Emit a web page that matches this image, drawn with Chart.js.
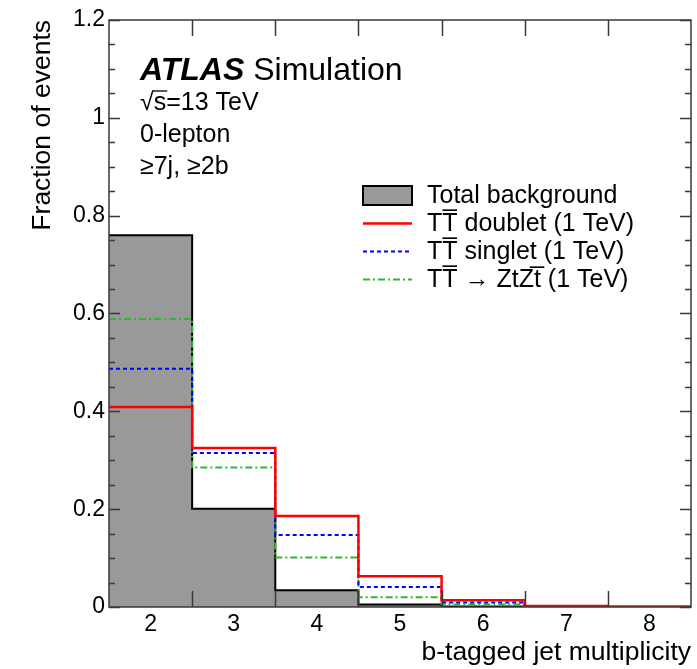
<!DOCTYPE html>
<html>
<head>
<meta charset="utf-8">
<script src="https://cdn.jsdelivr.net/npm/chart.js@4.4.1/dist/chart.umd.min.js"></script>
<style>
  html, body { margin: 0; padding: 0; background: #fff; }
  #wrap { width: 697px; height: 669px; }
</style>
</head>
<body>
<div id="wrap"><canvas id="c" width="697" height="669"></canvas></div>
<script>
// b-tagged jet multiplicity bins (bin centres)
const bTagBins = [2, 3, 4, 5, 6, 7, 8];

// Normalised distributions (fraction of events per bin)
const totalBackground = [0.760, 0.201, 0.034, 0.005, 0.001, 0.000, 0.000];
const ttDoublet       = [0.409, 0.325, 0.186, 0.063, 0.014, 0.002, 0.001];
const ttSinglet       = [0.487, 0.315, 0.147, 0.041, 0.009, 0.001, 0.000];
const ttZtZt          = [0.589, 0.285, 0.101, 0.020, 0.005, 0.000, 0.000];

const seriesLabels = [
  'Total background',
  'TT\u0305 doublet (1 TeV)',
  'TT\u0305 singlet (1 TeV)',
  'TT\u0305 \u2192 ZtZt\u0305 (1 TeV)'
];

const yMajorTicks = [0, 0.2, 0.4, 0.6, 0.8, 1, 1.2];

const FONT = "'Liberation Sans', Arial, Helvetica, sans-serif";

// Turn per-bin values into step-histogram vertices at the bin edges
function histPoints(values) {
  const pts = bTagBins.map((b, i) => ({ x: b - 0.5, y: values[i] }));
  pts.push({ x: bTagBins[bTagBins.length - 1] + 0.5, y: values[values.length - 1] });
  return pts;
}

// Frame with inward ticks on all four sides
const frameTicks = {
  id: 'frameTicks',
  afterDatasetsDraw(chart) {
    const { ctx, chartArea: a, scales: { x, y } } = chart;
    ctx.save();
    ctx.strokeStyle = '#3a3a3a';
    ctx.lineWidth = 1.5;
    ctx.beginPath();
    // y ticks: major every 0.2, minor every 0.05
    for (let k = 0; k <= 24; k++) {
      const v = k * 0.05;
      const py = Math.round(y.getPixelForValue(v)) + 0.5;
      const len = (k % 4 === 0) ? 11 : 6;
      ctx.moveTo(a.left, py); ctx.lineTo(a.left + len, py);
      ctx.moveTo(a.right, py); ctx.lineTo(a.right - len, py);
    }
    // x ticks at the bin edges
    for (let i = 0; i < bTagBins.length - 1; i++) {
      const px = Math.round(x.getPixelForValue(bTagBins[i] + 0.5)) + 0.5;
      ctx.moveTo(px, a.bottom); ctx.lineTo(px, a.bottom - 16);
      ctx.moveTo(px, a.top); ctx.lineTo(px, a.top + 16);
    }
    ctx.stroke();
    ctx.lineWidth = 1.5;
    ctx.strokeRect(a.left, a.top, a.right - a.left, a.bottom - a.top);
    ctx.restore();
  }
};

// Experiment label, selection text and legend
const annotations = {
  id: 'annotations',
  afterDraw(chart) {
    const { ctx, chartArea: a } = chart;
    ctx.save();
    ctx.fillStyle = '#000';
    ctx.textBaseline = 'alphabetic';
    ctx.textAlign = 'left';

    const x0 = a.left + 31;
    ctx.font = `italic bold 32px ${FONT}`;
    ctx.fillText('ATLAS', x0, a.top + 60);
    const wA = ctx.measureText('ATLAS ').width;
    ctx.font = `32px ${FONT}`;
    ctx.fillText('Simulation', x0 + wA, a.top + 60);

    ctx.font = `25px ${FONT}`;
    const rad = '\u221A';
    ctx.fillText(rad, x0, a.top + 90);
    const wr = ctx.measureText(rad).width;
    ctx.fillText('s=13 TeV', x0 + wr, a.top + 90);
    const ws = ctx.measureText('s').width;
    ctx.beginPath();
    ctx.lineWidth = 1.3;
    ctx.strokeStyle = '#000';
    ctx.moveTo(x0 + wr - 1, a.top + 90 - 19);
    ctx.lineTo(x0 + wr + ws + 1, a.top + 90 - 19);
    ctx.stroke();

    ctx.fillText('0-lepton', x0, a.top + 122);
    ctx.fillText('\u22657j, \u22652b', x0, a.top + 154);

    // legend
    const lx = 363, lw = 49, tx = 427;
    const rows = [195, 223, 251, 279];
    chart.data.datasets.forEach((ds, i) => {
      const cy = rows[i];
      ctx.save();
      if (i === 0) {
        ctx.fillStyle = ds.backgroundColor;
        ctx.fillRect(lx, cy - 9, lw, 19);
        ctx.strokeStyle = ds.borderColor;
        ctx.lineWidth = 2;
        ctx.strokeRect(lx, cy - 9, lw, 19);
      } else {
        ctx.strokeStyle = ds.borderColor;
        ctx.lineWidth = ds.borderWidth;
        ctx.setLineDash(ds.borderDash || []);
        ctx.beginPath();
        ctx.moveTo(lx, cy + 0.5);
        ctx.lineTo(lx + lw, cy + 0.5);
        ctx.stroke();
      }
      ctx.restore();
      ctx.font = `25px ${FONT}`;
      ctx.textBaseline = 'middle';
      ctx.fillStyle = '#000';
      ctx.fillText(ds.label, tx, cy + 1);
    });
    ctx.restore();
  }
};

Chart.defaults.font.family = FONT;
Chart.defaults.color = '#000';

new Chart(document.getElementById('c'), {
  type: 'line',
  data: {
    datasets: [
      {
        label: seriesLabels[0],
        data: histPoints(totalBackground),
        stepped: 'before',
        fill: 'origin',
        backgroundColor: '#999999',
        borderColor: '#000000',
        borderWidth: 2,
        pointRadius: 0,
        order: 3
      },
      {
        label: seriesLabels[1],
        data: histPoints(ttDoublet),
        stepped: 'before',
        fill: false,
        borderColor: '#ff0000',
        borderWidth: 2.5,
        pointRadius: 0,
        order: 0
      },
      {
        label: seriesLabels[2],
        data: histPoints(ttSinglet),
        stepped: 'before',
        fill: false,
        borderColor: '#0000ff',
        borderWidth: 2,
        borderDash: [4, 3],
        pointRadius: 0,
        order: 1
      },
      {
        label: seriesLabels[3],
        data: histPoints(ttZtZt),
        stepped: 'before',
        fill: false,
        borderColor: '#33b533',
        borderWidth: 2,
        borderDash: [7, 3, 2, 3],
        pointRadius: 0,
        order: 2
      }
    ]
  },
  options: {
    responsive: false,
    devicePixelRatio: 1,
    animation: false,
    layout: { padding: { top: 20, right: 6, left: 0, bottom: 0 } },
    plugins: { legend: { display: false }, tooltip: { enabled: false } },
    scales: {
      x: {
        type: 'linear',
        min: bTagBins[0] - 0.5,
        max: bTagBins[bTagBins.length - 1] + 0.5,
        afterBuildTicks: s => { s.ticks = bTagBins.map(v => ({ value: v })); },
        afterFit: s => { s.height = 62; },
        grid: { display: false, drawTicks: false },
        border: { display: false },
        ticks: {
          autoSkip: false, maxRotation: 0, padding: 4,
          font: { size: 23 }, color: '#000',
          callback: v => String(v)
        },
        title: {
          display: true, text: 'b-tagged jet multiplicity', align: 'end',
          font: { size: 26.5 }, color: '#000', padding: { top: 0, bottom: 0 }
        }
      },
      y: {
        min: 0,
        max: 1.2,
        afterBuildTicks: s => { s.ticks = yMajorTicks.map(v => ({ value: v })); },
        afterFit: s => { s.width = 109; },
        grid: { display: false, drawTicks: false },
        border: { display: false },
        ticks: {
          padding: 4, font: { size: 23 }, color: '#000',
          callback: v => String(Math.round(v * 10) / 10)
        },
        title: {
          display: true, text: 'Fraction of events', align: 'end',
          font: { size: 26.5 }, color: '#000', padding: { top: 27, bottom: 0 }
        }
      }
    }
  },
  plugins: [frameTicks, annotations]
});
</script>
</body>
</html>
